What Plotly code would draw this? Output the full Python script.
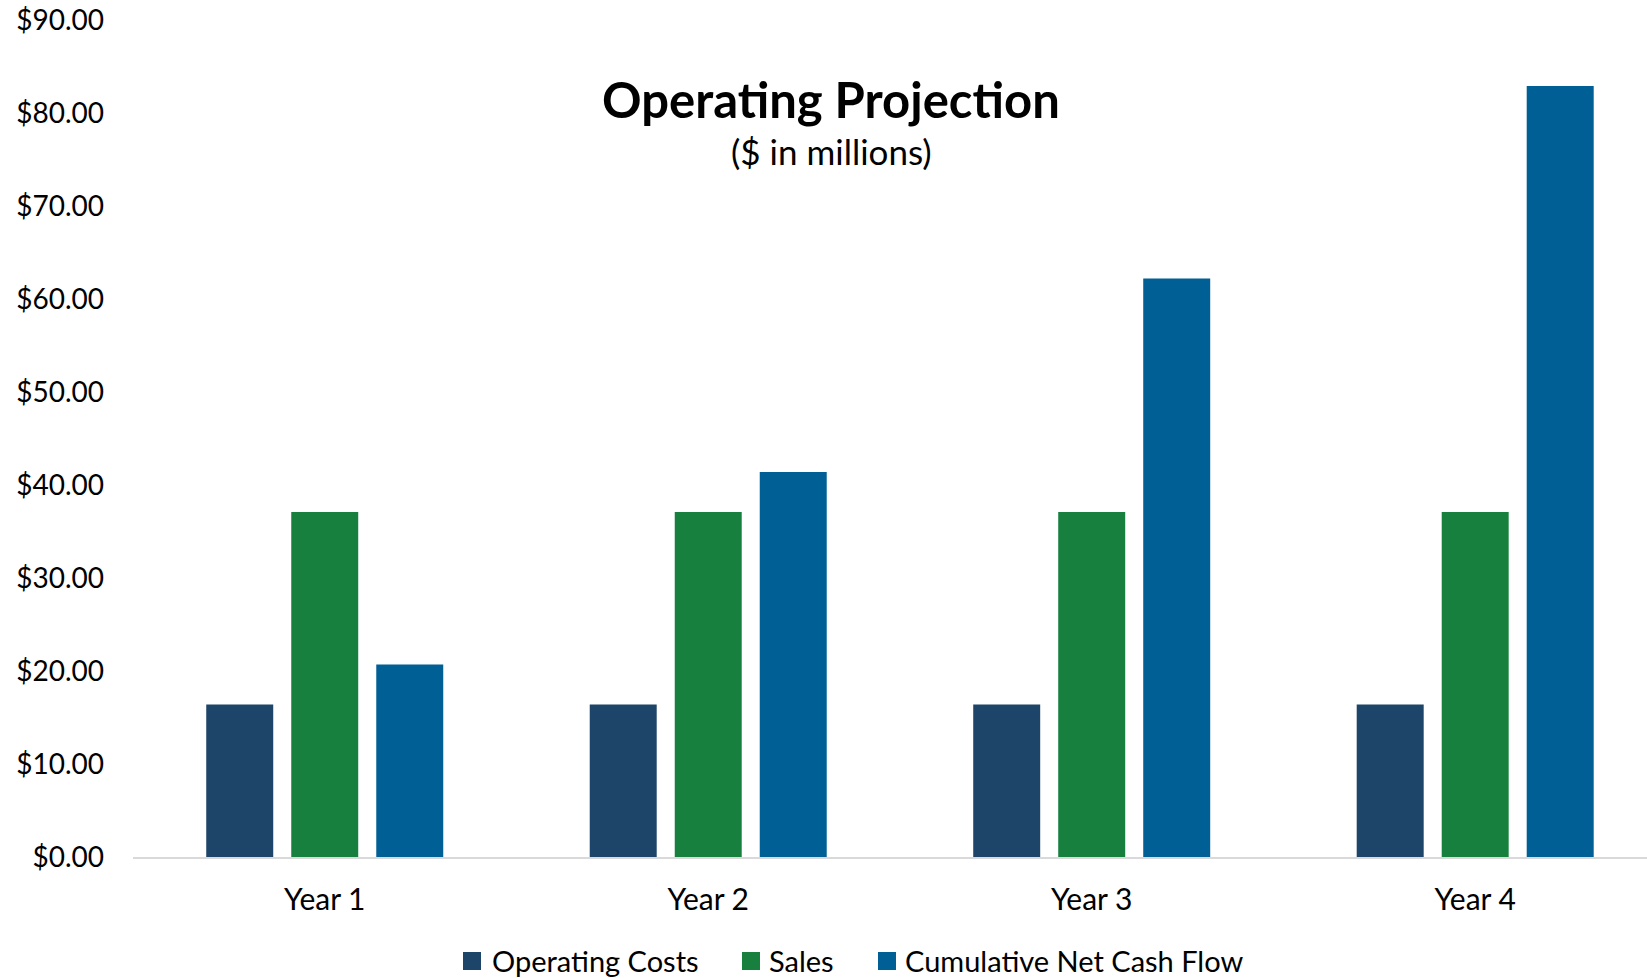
import plotly.graph_objects as go

# Chart data ($ in millions)
years = ["Year 1", "Year 2", "Year 3", "Year 4"]
series_names = ["Operating Costs", "Sales", "Cumulative Net Cash Flow"]
operating_costs = [16.4, 16.4, 16.4, 16.4]
sales = [37.1, 37.1, 37.1, 37.1]
cumulative_net_cash_flow = [20.7, 41.4, 62.2, 82.9]

tick_values = [0, 10, 20, 30, 40, 50, 60, 70, 80, 90]
tick_labels = ["$%.2f" % v for v in tick_values]

FONT = "Lato"
series_colors = ["#1D4469", "#17803E", "#005F94"]

# Figure geometry in pixels
W, H = 1647, 978
ML, MT, MB = 133, 20, 121
PW, PH = W - ML, H - MT - MB


def px_x(x):
    return (x - ML) / PW


def px_y(y):
    return (H - MB - y) / PH


fig = go.Figure()
for name, vals, col in zip(series_names,
                           [operating_costs, sales, cumulative_net_cash_flow],
                           series_colors):
    fig.add_trace(go.Bar(x=years, y=vals, name=name, showlegend=False,
                         marker=dict(color=col, line=dict(width=0))))

# Legend drawn as square swatches with labels underneath the axis
legend_swatch_x = [463, 742, 878]
legend_text_x = [490, 767, 903]
legend_cy = 961
shapes = []
annotations = []
for name, col, sx, tx in zip(series_names, series_colors, legend_swatch_x, legend_text_x):
    shapes.append(dict(type="rect", xref="paper", yref="paper",
                       x0=px_x(sx), x1=px_x(sx + 18),
                       y0=px_y(legend_cy + 9), y1=px_y(legend_cy - 9),
                       fillcolor=col, line=dict(width=0)))
    annotations.append(dict(text=name, xref="paper", yref="paper",
                            x=px_x(tx), y=px_y(legend_cy), xanchor="left", yanchor="middle",
                            showarrow=False,
                            font=dict(family=FONT, size=29, color="#000000")))

annotations += [
    dict(text="<b>Operating Projection</b>", xref="paper", yref="paper",
         x=px_x(831), y=px_y(99), xanchor="center", yanchor="middle", showarrow=False,
         font=dict(family=FONT, size=49, color="#000000")),
    dict(text="($ in millions)", xref="paper", yref="paper",
         x=px_x(831), y=px_y(151), xanchor="center", yanchor="middle", showarrow=False,
         font=dict(family=FONT, size=35, color="#000000")),
]

fig.update_layout(
    width=W, height=H,
    margin=dict(l=ML, r=0, t=MT, b=MB),
    paper_bgcolor="white", plot_bgcolor="white",
    barmode="group", bargap=0.335, bargroupgap=0.212,
    font=dict(family=FONT, size=28, color="#000000"),
    showlegend=False,
    shapes=shapes,
    annotations=annotations,
)

fig.update_xaxes(range=[-0.5, 3.448], showline=True, linecolor="#D9D9D9", linewidth=2,
                 showgrid=False, ticks="", ticklabelstandoff=15,
                 tickfont=dict(family=FONT, size=30, color="#000000"))
fig.update_yaxes(range=[0, 90], tickvals=tick_values, ticktext=tick_labels,
                 showgrid=False, zeroline=False, showline=False, ticks="",
                 ticklabelstandoff=28,
                 tickfont=dict(family=FONT, size=28, color="#000000"))

fig.write_html("out.html")
